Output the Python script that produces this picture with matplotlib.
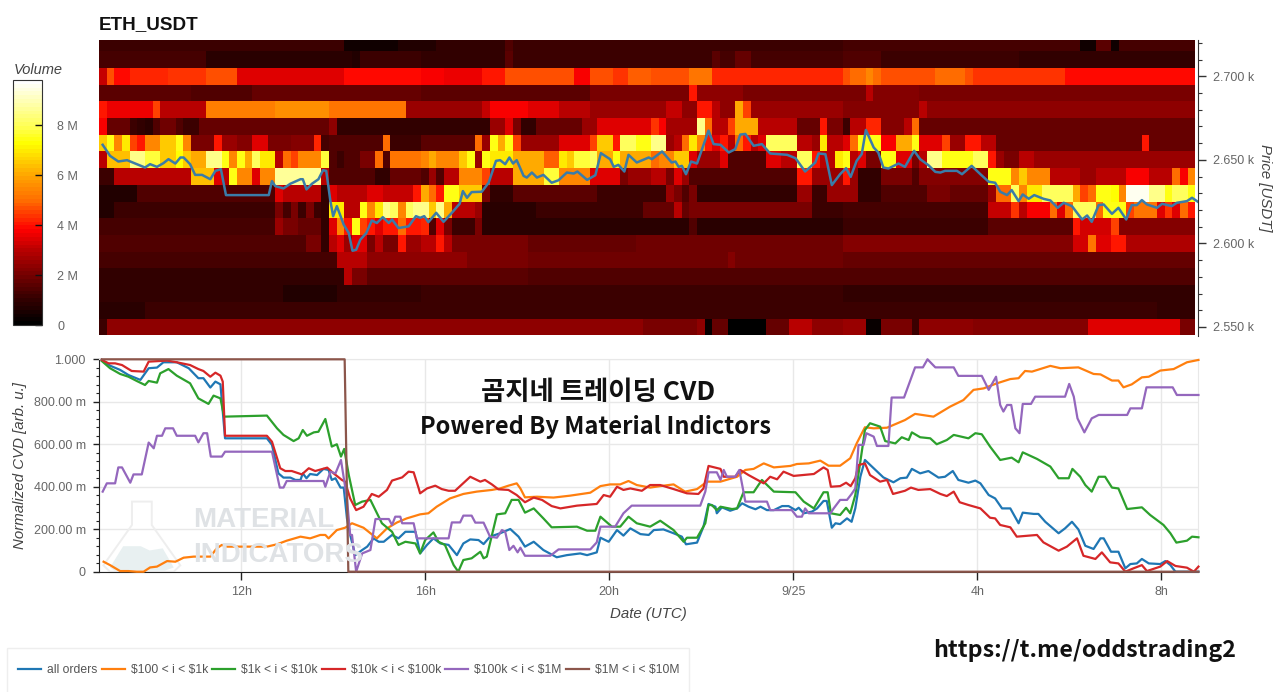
#!/usr/bin/env python3
"""ETH_USDT volume heatmap with normalized CVD panel underneath."""

import numpy as np
import matplotlib
matplotlib.use('Agg')
import matplotlib.pyplot as plt
from matplotlib.colors import LinearSegmentedColormap
from matplotlib.patches import Polygon, Rectangle
from matplotlib.ticker import FixedLocator

W, H = 1280, 692

# heatmap: one row per 10 USDT price bin, runs of (first 10-min column, volume in M)
N_COLS = 143
T_START = 8.91  # hours, 24 = 9/25 00:00
price_bins = [2550, 2560, 2570, 2580, 2590, 2600, 2610, 2620, 2630,
              2640, 2650, 2660, 2670, 2680, 2690, 2700, 2710, 2720]

vol_2720 = [(0, 1.1), (32, 0.4), (39, 0.7), (44, 1.0), (53, 1.5), (54, 1.1), (97, 1.3), (128, 0.4),
            (130, 1.6), (132, 0.4), (133, 1.3)]
vol_2710 = [(0, 1.3), (14, 0.9), (33, 0.7), (34, 1.1), (42, 1.0), (53, 1.6), (54, 1.1), (80, 1.6),
            (81, 1.3), (83, 1.7), (85, 1.3), (97, 1.5), (102, 1.2), (120, 1.0)]
vol_2700 = [(0, 3.2), (1, 4.6), (2, 3.9), (4, 4.2), (9, 4.4), (14, 4.6), (18, 3.4), (30, 3.5), (32, 3.9),
            (42, 3.8), (45, 3.6), (50, 4.0), (53, 4.7), (62, 3.8), (64, 4.7), (67, 4.4), (69, 4.8),
            (72, 4.6), (77, 5.2), (80, 4.2), (97, 4.6), (98, 5.0), (100, 5.4), (101, 5.0), (102, 4.6),
            (109, 5.0), (113, 4.6), (114, 4.4), (126, 3.9)]
vol_2690 = [(0, 1.6), (12, 1.4), (20, 1.7), (42, 1.6), (64, 2.1), (77, 4.0), (78, 2.4), (84, 2.0),
            (100, 3.0), (101, 2.2), (107, 2.0)]
vol_2680 = [(0, 4.0), (1, 3.6), (7, 4.5), (8, 3.0), (14, 5.3), (23, 5.6), (30, 5.1), (40, 2.6), (50, 3.2),
            (51, 3.7), (56, 3.4), (60, 3.0), (64, 2.6), (74, 3.2), (76, 2.4), (78, 4.0), (80, 3.0),
            (81, 2.4), (83, 6.0), (84, 4.5), (85, 2.5), (97, 2.2), (107, 3.0), (108, 2.3), (120, 2.4)]
vol_2670 = [(0, 3.7), (1, 1.8), (4, 1.2), (5, 1.0), (6, 0.8), (7, 1.5), (8, 1.9), (10, 1.5), (11, 1.2),
            (13, 1.7), (30, 2.3), (31, 1.0), (51, 2.5), (53, 3.5), (54, 2.0), (55, 1.0), (57, 1.7),
            (63, 2.5), (65, 3.5), (72, 4.3), (73, 3.7), (74, 2.7), (78, 8.5), (79, 5.0), (80, 3.0),
            (82, 4.5), (83, 6.0), (86, 3.0), (91, 1.7), (94, 4.0), (95, 2.0), (97, 1.2), (98, 3.0),
            (100, 4.2), (102, 2.2), (105, 3.0), (106, 5.0), (107, 1.8)]
vol_2660 = [(0, 6.5), (1, 7.5), (2, 5.5), (3, 7.0), (4, 4.5), (5, 4.0), (6, 5.5), (8, 6.5), (10, 7.5),
            (11, 5.5), (12, 2.0), (15, 4.0), (16, 2.5), (18, 2.2), (20, 3.5), (22, 2.0), (25, 2.2),
            (28, 4.2), (29, 1.3), (30, 1.5), (37, 5.0), (38, 1.2), (42, 1.6), (49, 5.0), (50, 2.5),
            (51, 7.5), (52, 6.0), (53, 7.5), (54, 4.5), (55, 2.5), (60, 3.5), (64, 4.5), (65, 6.5),
            (67, 4.0), (68, 8.0), (70, 7.5), (72, 8.5), (74, 2.5), (75, 3.0), (76, 5.0), (77, 7.0),
            (78, 5.5), (79, 4.0), (80, 3.5), (81, 4.0), (82, 3.0), (83, 5.0), (84, 4.0), (85, 3.0),
            (86, 3.5), (87, 8.0), (91, 3.0), (93, 2.5), (94, 7.0), (95, 3.0), (97, 3.5), (98, 5.0),
            (99, 7.5), (102, 3.8), (104, 6.0), (106, 7.5), (107, 3.5), (110, 4.5), (111, 2.5),
            (113, 4.0), (115, 3.0), (117, 1.8), (136, 4.0), (137, 1.8)]
vol_2650 = [(0, 3.0), (1, 6.3), (4, 8.5), (6, 7.8), (8, 6.5), (10, 7.3), (11, 6.5), (12, 6.0), (14, 8.5),
            (16, 7.5), (17, 5.5), (18, 7.5), (19, 6.0), (20, 8.0), (21, 7.0), (23, 3.0), (24, 5.0),
            (25, 4.5), (26, 5.5), (29, 7.8), (30, 1.5), (31, 1.2), (32, 1.5), (34, 2.0), (36, 5.0),
            (37, 1.5), (38, 5.2), (42, 5.5), (43, 6.0), (44, 5.5), (47, 6.5), (48, 7.5), (49, 2.5),
            (50, 7.5), (51, 7.0), (54, 6.0), (58, 4.8), (60, 7.0), (61, 6.5), (62, 7.7), (64, 8.0),
            (65, 6.0), (67, 7.5), (68, 6.0), (72, 5.0), (73, 5.5), (75, 6.5), (77, 3.5), (78, 2.5),
            (81, 3.5), (82, 1.5), (87, 3.5), (89, 3.0), (91, 8.0), (93, 4.0), (94, 3.0), (96, 7.0),
            (97, 7.5), (98, 3.0), (99, 3.5), (100, 2.0), (102, 7.5), (104, 3.5), (106, 2.0), (107, 3.0),
            (108, 8.5), (110, 7.5), (114, 8.0), (116, 4.0), (117, 2.5), (118, 2.0), (120, 3.0), (122, 2.5)]
vol_2640 = [(0, 1.2), (2, 3.0), (12, 6.3), (15, 3.5), (16, 3.0), (17, 7.5), (18, 5.5), (20, 3.5), (21, 5.5),
            (23, 8.7), (29, 3.0), (30, 1.5), (36, 1.0), (38, 1.8), (42, 1.5), (43, 2.5), (44, 1.5),
            (45, 3.0), (47, 5.5), (50, 4.5), (51, 3.0), (54, 6.0), (58, 7.7), (60, 5.5), (64, 3.5),
            (68, 2.0), (69, 2.5), (72, 3.0), (74, 2.0), (75, 3.5), (76, 2.5), (77, 1.5), (91, 4.0),
            (93, 2.5), (97, 4.0), (98, 2.5), (99, 1.0), (102, 2.0), (106, 1.5), (107, 2.2), (116, 7.5),
            (119, 5.5), (120, 6.5), (121, 5.5), (124, 3.0), (128, 2.5), (130, 3.0), (134, 3.8), (137, 3.0),
            (140, 5.0), (141, 3.8), (142, 5.5)]
vol_2630 = [(0, 0.7), (5, 1.4), (23, 3.5), (24, 3.0), (29, 1.0), (30, 3.5), (31, 3.0), (35, 3.5), (37, 3.2),
            (41, 4.0), (42, 6.0), (43, 5.0), (44, 4.0), (45, 7.5), (47, 6.5), (50, 2.0), (51, 1.0), (54, 1.6),
            (65, 1.2), (74, 2.5), (75, 2.0), (76, 1.5), (77, 2.0), (78, 1.0), (91, 2.5), (93, 1.2), (95, 2.5),
            (99, 1.0), (102, 1.5), (108, 2.0), (111, 1.8), (116, 2.5), (117, 5.0), (119, 8.0), (120, 5.5),
            (121, 7.0), (123, 8.0), (127, 6.0), (128, 4.5), (129, 5.0), (130, 7.5), (132, 7.2), (133, 5.5),
            (134, 9.5), (137, 8.5), (139, 7.5), (140, 8.0), (142, 7.5)]
vol_2620 = [(0, 0.7), (2, 1.1), (23, 2.0), (24, 1.3), (25, 2.0), (26, 1.2), (27, 2.0), (28, 1.2), (29, 1.0),
            (30, 7.0), (32, 3.0), (34, 7.5), (35, 5.5), (36, 7.0), (37, 8.5), (38, 8.0), (39, 5.5), (40, 8.0),
            (41, 8.5), (43, 6.5), (44, 8.5), (45, 6.0), (46, 3.0), (49, 2.5), (50, 0.8), (57, 1.2), (71, 1.8),
            (75, 3.0), (76, 1.8), (77, 2.0), (93, 1.2), (97, 1.3), (116, 3.2), (119, 4.3), (120, 3.0), (121, 3.7),
            (124, 5.0), (125, 3.5), (126, 5.0), (127, 8.0), (130, 5.0), (131, 7.5), (134, 4.5), (135, 5.2),
            (138, 3.5), (139, 4.3), (140, 3.5), (141, 5.0), (142, 4.0)]
vol_2610 = [(0, 1.3), (23, 2.5), (24, 2.0), (26, 1.7), (29, 1.0), (30, 3.5), (31, 5.5), (32, 4.0), (33, 7.5),
            (34, 4.5), (35, 4.0), (36, 3.5), (37, 4.0), (39, 5.0), (40, 4.0), (42, 4.2), (43, 1.5), (44, 3.5),
            (45, 2.0), (46, 1.2), (49, 2.0), (50, 0.8), (77, 1.5), (78, 0.9), (97, 1.1), (116, 1.6), (127, 4.0),
            (128, 3.3), (132, 4.5), (133, 2.2)]
vol_2600 = [(0, 1.4), (27, 2.0), (29, 1.0), (30, 3.0), (31, 3.5), (32, 2.5), (33, 3.5), (35, 2.0), (36, 3.0),
            (37, 2.0), (39, 4.0), (40, 2.5), (42, 3.0), (44, 4.0), (45, 3.0), (46, 2.0), (56, 1.7), (70, 1.9),
            (97, 2.2), (127, 3.3), (129, 5.2), (130, 3.5), (132, 4.0), (134, 2.8)]
vol_2590 = [(0, 1.3), (31, 3.0), (35, 2.3), (48, 2.1), (56, 1.9), (82, 2.2), (83, 1.9), (97, 1.8)]
vol_2580 = [(0, 1.0), (32, 3.0), (33, 2.0), (35, 1.6), (56, 1.4)]
vol_2570 = [(0, 1.0), (24, 0.7), (31, 1.0), (42, 1.1), (97, 1.0)]
vol_2560 = [(0, 0.8), (6, 1.2), (138, 1.0)]
vol_2550 = [(0, 1.2), (1, 2.3), (71, 2.1), (78, 2.4), (79, 0.3), (80, 1.8), (82, 0.1), (87, 1.8), (90, 3.0),
            (93, 2.3), (97, 2.6), (100, 0.2), (102, 2.1), (106, 1.2), (107, 2.4), (114, 2.2), (129, 3.4),
            (141, 2.0)]

# price line
t_price = [8.99, 9.15, 9.33, 9.52, 9.70, 9.91, 10.02, 10.17, 10.31, 10.42, 10.57, 10.68, 10.75, 10.89, 11.00,
           11.15, 11.33, 11.44, 11.56, 11.67, 12.60, 12.67, 12.74, 12.92, 13.07, 13.29, 13.34, 13.42, 13.54,
           13.68, 13.78, 13.85, 13.94, 14.00, 14.08, 14.23, 14.34, 14.42, 14.50, 14.59, 14.72, 14.84, 14.95,
           15.08, 15.21, 15.28, 15.42, 15.64, 15.80, 15.89, 15.98, 16.07, 16.24, 16.40, 16.58, 16.75, 16.82,
           16.91, 17.01, 17.23, 17.38, 17.54, 17.63, 17.74, 17.83, 17.91, 17.99, 18.14, 18.21, 18.32, 18.43,
           18.57, 18.75, 18.90, 19.08, 19.23, 19.31, 19.52, 19.70, 19.82, 20.02, 20.10, 20.20, 20.33, 20.42,
           20.60, 20.86, 20.93, 21.15, 21.36, 21.44, 21.51, 21.58, 21.67, 21.78, 21.91, 22.16, 22.27, 22.42,
           22.60, 22.74, 22.85, 22.96, 23.14, 23.32, 23.50, 23.87, 24.05, 24.26, 24.48, 24.55, 24.70, 24.84,
           25.02, 25.15, 25.25, 25.38, 25.49, 25.58, 25.75, 25.85, 25.96, 26.07, 26.29, 26.43, 26.63, 26.76,
           26.94, 27.09, 27.20, 27.30, 27.56, 27.67, 27.88, 28.07, 28.25, 28.39, 28.50, 28.65, 28.75, 28.90,
           28.99, 29.12, 29.24, 29.44, 29.59, 29.75, 29.88, 30.06, 30.28, 30.39, 30.49, 30.64, 30.75, 30.93,
           31.07, 31.24, 31.36, 31.47, 31.58, 31.69, 31.91, 32.02, 32.23, 32.34, 32.56, 32.67, 32.81]
price = [2659.0, 2652.4, 2649.0, 2649.8, 2647.8, 2645.4, 2647.4, 2645.8, 2648.0, 2650.4, 2647.8, 2651.4, 2651.4,
         2647.4, 2641.0, 2641.0, 2638.4, 2643.4, 2644.4, 2628.9, 2628.9, 2637.3, 2634.3, 2632.9, 2635.7, 2638.4,
         2638.4, 2632.3, 2635.7, 2638.4, 2643.8, 2643.4, 2625.3, 2616.3, 2622.3, 2611.2, 2606.2, 2595.6, 2596.2,
         2602.2, 2606.2, 2613.7, 2612.2, 2615.7, 2612.2, 2614.3, 2609.2, 2610.2, 2616.3, 2615.3, 2616.3, 2612.7,
         2618.3, 2612.9, 2618.3, 2623.7, 2631.3, 2627.3, 2630.7, 2630.9, 2636.3, 2649.4, 2649.8, 2647.4, 2651.4,
         2647.8, 2649.8, 2640.4, 2639.4, 2642.4, 2639.4, 2641.0, 2636.3, 2637.8, 2642.4, 2641.8, 2643.0, 2638.0,
         2640.8, 2654.0, 2650.4, 2645.8, 2647.0, 2643.0, 2653.0, 2648.4, 2651.4, 2650.4, 2655.0, 2648.4, 2649.0,
         2645.8, 2646.4, 2641.4, 2649.0, 2647.8, 2667.5, 2659.4, 2659.0, 2654.4, 2656.4, 2665.1, 2665.5, 2658.4,
         2659.4, 2653.8, 2653.0, 2651.0, 2643.0, 2648.4, 2653.8, 2653.4, 2634.9, 2641.4, 2645.0, 2639.8, 2649.4,
         2653.4, 2667.9, 2657.4, 2654.4, 2645.4, 2644.8, 2647.8, 2645.8, 2655.4, 2650.4, 2646.8, 2642.8, 2642.4,
         2643.4, 2643.4, 2641.4, 2646.4, 2641.4, 2636.9, 2636.3, 2630.9, 2628.9, 2631.9, 2625.3, 2629.3, 2626.7,
         2628.9, 2626.7, 2625.7, 2621.3, 2624.3, 2622.3, 2614.3, 2616.7, 2612.9, 2622.9, 2623.3, 2617.7, 2621.3,
         2614.3, 2622.9, 2622.9, 2625.9, 2623.3, 2621.3, 2623.7, 2622.3, 2624.3, 2625.3, 2627.3, 2624.7]

# CVD series
t_all = [8.97, 9.15, 9.37, 9.55, 9.81, 9.99, 10.17, 10.31, 10.60, 10.86, 11.07, 11.18, 11.33, 11.44, 11.55, 11.65,
         12.56, 12.67, 12.81, 12.92, 13.07, 13.18, 13.29, 13.34, 13.42, 13.50, 13.65, 13.79, 13.90, 13.97, 14.05,
         14.16, 14.23, 14.30, 14.37, 14.48, 14.63, 14.74, 14.88, 14.99, 15.10, 15.28, 15.42, 15.57, 15.79, 15.89,
         16.04, 16.18, 16.33, 16.51, 16.69, 16.83, 16.98, 17.16, 17.27, 17.41, 17.63, 17.85, 18.03, 18.17, 18.36,
         18.57, 18.86, 19.08, 19.37, 19.52, 19.73, 19.81, 19.99, 20.17, 20.31, 20.46, 20.68, 20.86, 20.97, 21.18,
         21.40, 21.58, 21.67, 21.91, 22.05, 22.16, 22.31, 22.34, 22.45, 22.63, 22.78, 22.89, 23.03, 23.18, 23.29,
         23.43, 23.58, 23.76, 23.90, 24.05, 24.12, 24.23, 24.41, 24.52, 24.66, 24.73, 24.84, 24.92, 25.02, 25.17,
         25.27, 25.35, 25.46, 25.56, 25.75, 25.96, 26.18, 26.33, 26.47, 26.58, 26.76, 26.94, 27.16, 27.30, 27.47,
         27.59, 27.81, 27.96, 28.07, 28.25, 28.39, 28.54, 28.72, 28.90, 28.99, 29.23, 29.33, 29.48, 29.77, 29.91,
         30.06, 30.20, 30.35, 30.53, 30.68, 30.75, 30.91, 31.07, 31.22, 31.33, 31.47, 31.58, 31.73, 31.98, 32.09,
         32.20, 32.31, 32.81]
cvd_all = [.997, .970, .950, .926, .903, .958, .961, .986, .986, .958, .911, .911, .867, .895, .882, .628,
           .628, .597, .463, .443, .443, .432, .432, .463, .440, .460, .455, .484, .479, .432, .440,
           .396, .396, .251, .173, .078, .102, .118, .157, .141, .141, .173, .157, .188, .188, .086,
           .126, .157, .133, .126, .078, .133, .152, .149, .130, .165, .181, .201, .165, .118, .141,
           .102, .068, .078, .086, .078, .091, .160, .141, .196, .170, .204, .177, .173, .196, .199,
           .181, .165, .129, .137, .212, .319, .306, .275, .303, .287, .298, .322, .306, .294, .306,
           .290, .290, .309, .309, .290, .301, .275, .283, .298, .333, .333, .207, .228, .224, .251,
           .235, .298, .447, .526, .487, .444, .421, .440, .443, .484, .463, .474, .443, .447, .474,
           .432, .419, .429, .416, .361, .345, .298, .298, .228, .278, .272, .272, .235, .181, .204,
           .235, .199, .122, .107, .157, .157, .094, .094, .016, .036, .039, .060, .039, .036, .050,
           .031, 0, 0]

t_100_1k = [9.01, 9.15, 9.37, 9.55, 9.73, 9.88, 10.02, 10.17, 10.39, 10.57, 10.75, 10.97, 11.33, 11.47, 11.58, 11.69,
            12.56, 12.78, 12.99, 13.29, 13.50, 13.72, 13.83, 13.90, 14.08, 14.26, 14.41, 14.66, 14.95, 15.17, 15.39,
            15.60, 15.89, 16.07, 16.25, 16.54, 16.83, 17.12, 17.45, 17.63, 17.81, 17.99, 18.07, 18.17, 18.43, 18.79,
            19.15, 19.59, 19.81, 20.02, 20.24, 20.42, 20.60, 20.89, 21.11, 21.40, 21.65, 21.91, 22.13, 22.42, 22.78,
            22.96, 23.14, 23.36, 23.58, 23.94, 24.08, 24.34, 24.59, 24.77, 25.02, 25.24, 25.38, 25.56, 25.75, 26.04,
            26.43, 26.65, 27.05, 27.41, 27.70, 27.92, 28.14, 28.43, 28.72, 28.90, 29.04, 29.19, 29.59, 29.81, 30.20,
            30.53, 30.68, 30.93, 31.07, 31.18, 31.36, 31.58, 31.73, 31.98, 32.27, 32.56, 32.81]
cvd_100_1k = [.047, .031, .003, .003, 0, 0, .020, .024, .050, .047, .066, .071, .071, .110, .126, .118,
              .118, .129, .146, .165, .157, .173, .173, .157, .196, .207, .228, .207, .157, .204, .232,
              .251, .270, .275, .306, .345, .366, .377, .385, .392, .405, .416, .392, .350, .353, .349,
              .358, .372, .403, .411, .411, .427, .408, .396, .403, .411, .377, .389, .424, .424, .447,
              .479, .484, .510, .491, .498, .507, .510, .523, .499, .499, .534, .604, .680, .675, .678,
              .714, .743, .730, .777, .808, .856, .863, .887, .907, .911, .945, .942, .969, .958, .962,
              .931, .929, .900, .900, .868, .882, .915, .918, .947, .954, .986, .997]

t_1k_10k = [8.97, 9.15, 9.37, 9.55, 9.73, 9.91, 9.99, 10.17, 10.24, 10.42, 10.60, 10.89, 11.07, 11.29, 11.40, 11.55,
            11.63, 12.56, 12.78, 12.92, 13.14, 13.25, 13.34, 13.43, 13.58, 13.68, 13.83, 13.97, 14.08, 14.17, 14.24,
            14.34, 14.48, 14.63, 14.81, 15.06, 15.28, 15.42, 15.57, 15.79, 15.89, 16.00, 16.18, 16.29, 16.43, 16.62,
            16.72, 16.83, 17.01, 17.20, 17.27, 17.34, 17.56, 17.74, 17.88, 18.03, 18.17, 18.36, 18.57, 18.75, 19.30,
            19.52, 19.70, 19.81, 20.06, 20.24, 20.42, 20.60, 20.89, 21.11, 21.40, 21.62, 21.69, 21.91, 22.09, 22.16,
            22.23, 22.34, 22.42, 22.67, 22.78, 22.92, 23.14, 23.32, 23.47, 23.58, 24.05, 24.23, 24.45, 24.66, 24.75,
            24.82, 25.02, 25.15, 25.24, 25.35, 25.46, 25.56, 25.67, 25.89, 26.00, 26.22, 26.36, 26.51, 26.58, 26.76,
            26.98, 27.12, 27.34, 27.49, 27.81, 27.96, 28.10, 28.28, 28.50, 28.75, 28.90, 28.99, 29.19, 29.30, 29.59,
            29.77, 29.99, 30.07, 30.24, 30.35, 30.49, 30.64, 30.78, 30.93, 31.07, 31.26, 31.58, 31.76, 32.05, 32.20,
            32.33, 32.56, 32.67, 32.81]
cvd_1k_10k = [.992, .958, .931, .918, .898, .879, .898, .890, .934, .954, .923, .887, .816, .790, .829, .816,
              .730, .735, .675, .644, .615, .628, .667, .640, .656, .659, .719, .589, .600, .542, .578,
              .455, .314, .330, .338, .228, .188, .126, .141, .133, .086, .149, .185, .141, .126, .031,
              0, .055, .063, .094, .063, .071, .270, .275, .338, .338, .278, .298, .251, .209, .212,
              .193, .193, .259, .212, .212, .259, .228, .212, .240, .196, .141, .160, .160, .228, .314,
              .314, .290, .306, .295, .298, .374, .374, .432, .400, .377, .374, .330, .298, .374, .374,
              .275, .267, .301, .275, .361, .518, .667, .699, .683, .615, .604, .633, .620, .656, .633,
              .628, .600, .620, .644, .628, .652, .647, .589, .526, .537, .515, .562, .542, .531, .495,
              .440, .440, .484, .447, .408, .377, .447, .447, .396, .392, .295, .303, .267, .220, .181,
              .137, .146, .165, .162]

t_10k_100k = [8.97, 9.12, 9.26, 9.41, 9.62, 9.88, 9.99, 10.39, 10.60, 10.89, 11.07, 11.18, 11.33, 11.44, 11.55, 11.60,
              11.65, 12.56, 12.67, 12.85, 12.96, 13.10, 13.32, 13.47, 13.61, 13.87, 14.01, 14.19, 14.26, 14.37, 14.50,
              14.66, 14.84, 14.99, 15.17, 15.28, 15.50, 15.64, 15.75, 15.86, 15.89, 16.04, 16.22, 16.36, 16.51, 16.65,
              16.98, 17.20, 17.30, 17.45, 17.59, 17.81, 17.99, 18.17, 18.36, 18.54, 18.75, 18.94, 19.30, 19.73, 19.88,
              20.02, 20.17, 20.31, 20.46, 20.71, 20.89, 21.11, 21.40, 21.69, 21.94, 22.05, 22.16, 22.42, 22.49, 22.74,
              22.85, 23.03, 23.36, 23.50, 23.65, 23.79, 24.01, 24.45, 24.66, 24.75, 24.82, 25.02, 25.15, 25.25, 25.35,
              25.42, 25.56, 25.67, 25.89, 26.04, 26.17, 26.43, 26.56, 26.72, 26.98, 27.20, 27.34, 27.49, 27.62, 27.81,
              28.07, 28.28, 28.39, 28.50, 28.72, 28.86, 29.30, 29.44, 29.77, 29.95, 30.17, 30.31, 30.57, 30.71, 30.89,
              31.07, 31.22, 31.40, 31.58, 31.69, 31.98, 32.13, 32.31, 32.56, 32.71, 32.81]
cvd_10k_100k = [.997, .981, .981, .973, .945, .942, .989, .994, .986, .973, .954, .945, .918, .937, .923, .895,
                .640, .640, .612, .487, .474, .474, .458, .487, .474, .490, .463, .432, .424, .345, .290,
                .306, .366, .353, .385, .429, .444, .471, .468, .392, .369, .392, .405, .389, .381, .381,
                .447, .424, .432, .411, .388, .385, .361, .327, .349, .338, .309, .298, .311, .319, .361,
                .353, .400, .385, .392, .381, .408, .408, .389, .369, .366, .392, .498, .484, .447, .447,
                .479, .455, .416, .447, .435, .471, .451, .460, .491, .479, .400, .403, .419, .403, .440,
                .502, .510, .455, .424, .432, .366, .381, .396, .385, .389, .366, .356, .377, .327, .314,
                .298, .254, .251, .220, .209, .165, .173, .138, .099, .118, .157, .075, .060, .091, .044,
                .039, 0, .016, .031, .003, .024, .050, .027, .019, 0, .024]

t_100k_1m = [8.99, 9.08, 9.26, 9.33, 9.41, 9.59, 9.66, 9.84, 9.99, 10.10, 10.17, 10.28, 10.35, 10.52, 10.60, 11.00,
             11.07, 11.18, 11.26, 11.34, 11.58, 11.65, 12.67, 12.84, 12.92, 12.99, 13.79, 13.83, 13.94, 14.05, 14.17,
             14.30, 14.37, 14.41, 14.50, 14.63, 14.81, 14.92, 15.21, 15.28, 15.35, 15.46, 15.50, 15.75, 15.82, 16.51,
             16.58, 16.76, 16.83, 17.01, 17.09, 17.27, 17.41, 17.56, 17.67, 17.74, 17.83, 17.92, 18.01, 18.07, 18.17,
             18.72, 18.90, 19.59, 19.73, 19.81, 20.13, 20.31, 20.49, 21.98, 22.09, 22.16, 22.34, 22.42, 22.49, 22.56,
             22.74, 22.83, 22.96, 23.43, 23.50, 23.97, 24.08, 24.19, 24.26, 24.34, 24.81, 24.88, 25.02, 25.17, 25.27,
             25.35, 25.42, 25.53, 25.59, 25.75, 25.82, 26.07, 26.14, 26.41, 26.65, 26.82, 26.92, 27.09, 27.49, 27.59,
             28.10, 28.25, 28.41, 28.50, 28.57, 28.65, 28.74, 28.83, 28.92, 28.99, 29.17, 29.26, 29.91, 30.00, 30.10,
             30.18, 30.33, 30.49, 30.64, 31.26, 31.33, 31.58, 31.68, 32.25, 32.34, 32.81]
cvd_100k_1m = [.377, .416, .416, .491, .491, .419, .458, .458, .608, .581, .640, .640, .675, .675, .640, .640,
               .609, .652, .652, .542, .542, .565, .565, .396, .396, .427, .427, .400, .471, .463, .526,
               .345, .173, .173, 0, .086, .102, .248, .248, .220, .259, .259, .228, .228, .157, .157,
               .232, .232, .264, .264, .231, .231, .165, .160, .196, .188, .102, .122, .091, .113, .075,
               .075, .105, .105, .138, .212, .212, .275, .311, .311, .377, .468, .468, .432, .479, .447,
               .447, .479, .330, .330, .290, .290, .259, .259, .298, .275, .275, .298, .338, .338, .366,
               .392, .597, .597, .652, .636, .592, .592, .820, .820, .962, .962, 1.0, .962, .962, .922,
               .922, .856, .918, .785, .754, .785, .785, .675, .652, .790, .790, .824, .824, .884, .824,
               .722, .656, .722, .738, .738, .769, .769, .868, .868, .832, .832]

t_1m_10m = [8.97, 14.25, 14.33, 32.81]
cvd_1m_10m = [1.0, 1.0, 0, 0]

series_labels = ['all orders', r'\$100 < i < \$1k', r'\$1k < i < \$10k',
                 r'\$10k < i < \$100k', r'\$100k < i < \$1M', r'\$1M < i < \$10M']
series_colors = ['#1f77b4', '#ff7f0e', '#2ca02c', '#d62728', '#9467bd', '#8c564b']

hour_ticks = [12, 16, 20, 24, 28, 32]
hour_labels = ['12h', '16h', '20h', '9/25', '4h', '8h']
price_ticks = [2550, 2600, 2650, 2700]
price_labels = ['2.550 k', '2.600 k', '2.650 k', '2.700 k']
cvd_ticks = [0, 0.2, 0.4, 0.6, 0.8, 1.0]
cvd_labels = ['0', '200.00 m', '400.00 m', '600.00 m', '800.00 m', '1.000']
vol_ticks = [0, 2, 4, 6, 8]
vol_labels = ['0', '2 M', '4 M', '6 M', '8 M']

VMAX = 9.8
# black-red-yellow-white, darker at the low end than plain 'hot'
volume_stops = [(0, '#000000'), (1.0, '#350000'), (2.0, '#780000'), (3.0, '#bb0000'), (3.8, '#ff0000'),
                (5.0, '#ff6e00'), (6.0, '#ffa500'), (7.3, '#ffff00'), (8.0, '#ffff55'), (VMAX, '#ffffff')]


def expand(runs):
    """Turn (first column, value) runs into one full row of cells."""
    row = np.zeros(N_COLS)
    for k, (start, val) in enumerate(runs):
        end = runs[k + 1][0] if k + 1 < len(runs) else N_COLS
        row[start:end] = val
    return row


def px_axes(left, top, right, bottom):
    return [left / W, 1 - bottom / H, (right - left) / W, (bottom - top) / H]


plt.rcParams['font.family'] = ['Liberation Sans', 'DejaVu Sans']
TICK_C = '#666666'
LABEL_C = '#444444'

fig = plt.figure(figsize=(W / 100, H / 100), dpi=100)

# heatmap panel
ax = fig.add_axes(px_axes(99, 40, 1198, 336))
rows = [vol_2550, vol_2560, vol_2570, vol_2580, vol_2590, vol_2600, vol_2610, vol_2620, vol_2630,
        vol_2640, vol_2650, vol_2660, vol_2670, vol_2680, vol_2690, vol_2700, vol_2710, vol_2720]
grid = np.array([expand(r) for r in rows])
x_edges = T_START + np.arange(N_COLS + 1) / 6
y_edges = np.array(price_bins + [price_bins[-1] + 10]) - 5
volume_cmap = LinearSegmentedColormap.from_list('volume', [(v / VMAX, c) for v, c in volume_stops], N=64)
mesh = ax.pcolormesh(x_edges, y_edges, grid, cmap=volume_cmap, vmin=0, vmax=VMAX, rasterized=True)
ax.plot(t_price, price, color='#3a7ca8', lw=1.8, solid_joinstyle='round')
ax.set_xlim(8.91, 32.80)
ax.set_ylim(2544.6, 2721.7)
ax.set_xticks([])
ax.yaxis.tick_right()
ax.set_yticks(price_ticks)
ax.set_yticklabels(price_labels, color=TICK_C, fontsize=9)
ax.yaxis.set_minor_locator(FixedLocator(np.arange(2550, 2721, 10)))
ax.tick_params(axis='y', which='major', length=6, width=1, pad=4.5, color='#333333')
ax.tick_params(axis='y', which='minor', length=3, width=0.8, color='#333333')
for s in ['top', 'left', 'bottom']:
    ax.spines[s].set_visible(False)
ax.spines['right'].set_color('#333333')
ax.yaxis.set_label_position('right')
ax.set_ylabel('Price [USDT]', rotation=270, style='italic', color=LABEL_C, fontsize=10.8, labelpad=13)
fig.text(99 / W, 1 - 29 / H, 'ETH_USDT', fontsize=13.6, fontweight='bold', color='#111111')

# colorbar
cax = fig.add_axes(px_axes(13, 80, 42, 325))
cb = fig.colorbar(mesh, cax=cax)
cb.set_ticks(vol_ticks)
cb.set_ticklabels(vol_labels)
cax.tick_params(length=5, width=1, direction='in', pad=11, labelsize=9, labelcolor=TICK_C, color='#111111')
cb.outline.set_edgecolor('#333333')
fig.text(14 / W, 1 - 74 / H, 'Volume', style='italic', color=LABEL_C, fontsize=10.5)

# CVD panel
bx = fig.add_axes(px_axes(99, 359.3, 1198, 571.7))
bx.set_xlim(8.91, 32.80)
bx.set_ylim(0, 1.0)

# faint logo watermark behind the lines
flask = [(.030, .33), (.048, .33), (.048, .22), (.074, .03), (.068, 0), (.010, 0), (.004, .03), (.030, .22)]
bx.add_patch(Polygon(flask, closed=True, transform=bx.transAxes, fill=False, ec='#eeeeee', lw=1.4, zorder=1))
hills = [(.010, .02), (.022, .12), (.038, .12), (.046, .10), (.058, .11), (.068, .02), (.060, .005), (.014, .005)]
bx.add_patch(Polygon(hills, closed=True, transform=bx.transAxes, fc='#e8f0f1', ec='none', zorder=1))
fig.text(193 / W, 1 - 520 / H, 'MATERIAL', fontsize=20, fontweight='bold', color='#dfe2e5', va='center', zorder=0.5)
fig.text(193 / W, 1 - 555 / H, 'INDICATORS', fontsize=20, fontweight='bold', color='#dfe2e5', va='center', zorder=0.5)
bx.patch.set_alpha(0)

series = [(t_all, cvd_all), (t_100_1k, cvd_100_1k), (t_1k_10k, cvd_1k_10k),
          (t_10k_100k, cvd_10k_100k), (t_100k_1m, cvd_100k_1m), (t_1m_10m, cvd_1m_10m)]
handles = []
for (t, v), lab, col in zip(series, series_labels, series_colors):
    line, = bx.plot(t, v, color=col, lw=1.6, label=lab, clip_on=False, zorder=3, solid_joinstyle='round')
    handles.append(line)

bx.set_xticks(hour_ticks)
bx.set_xticklabels(hour_labels, color=TICK_C, fontsize=9)
bx.set_yticks(cvd_ticks)
bx.set_yticklabels(cvd_labels, color=TICK_C, fontsize=9)
bx.yaxis.set_minor_locator(FixedLocator(np.arange(0, 1.001, 0.04)))
bx.tick_params(axis='x', length=5.5, width=1, pad=5, color='#222222')
bx.tick_params(axis='y', which='major', length=4.5, width=1, pad=5, color='#222222')
bx.tick_params(axis='y', which='minor', length=2.5, width=0.8, color='#222222')
bx.grid(True, which='major', color='#e8e8e8', lw=1)
bx.set_axisbelow(True)
for s in ['top', 'right']:
    bx.spines[s].set_color('#e8e8e8')
for s in ['left', 'bottom']:
    bx.spines[s].set_color('#222222')
bx.set_xlabel('Date (UTC)', style='italic', color=LABEL_C, fontsize=10.8, labelpad=6)
bx.set_ylabel('Normalized CVD [arb. u.]', style='italic', color=LABEL_C, fontsize=10.8, labelpad=5)

# pasted-on captions
kr = ['Noto Sans CJK KR', 'DejaVu Sans']
fig.text(598 / W, 1 - 393 / H, '곰지네 트레이딩 CVD', family=kr, fontsize=19, fontweight='bold',
         color='#111111', ha='center', va='center')
fig.text(596 / W, 1 - 427 / H, 'Powered By Material Indictors', family=kr, fontsize=17, fontweight='bold',
         color='#111111', ha='center', va='center')
fig.text(1084.5 / W, 1 - 650 / H, 'https://t.me/oddstrading2', family=kr, fontsize=16.7, fontweight='bold',
         color='#111111', ha='center', va='center')

# legend box runs off the bottom of the page
fig.add_artist(Rectangle((7 / W, 1 - 700 / H), 682 / W, 52 / H, transform=fig.transFigure,
                         fc='white', ec='#eeeeee', lw=1))
fig.legend(handles=handles, loc='center left', bbox_to_anchor=(18 / W, 1 - 670 / H), ncol=6, fontsize=8.7,
           frameon=False, handlelength=1.9, handletextpad=0.5, columnspacing=0.35, borderpad=0,
           borderaxespad=0, labelcolor='#555555')

fig.savefig('out.png', dpi=100)
